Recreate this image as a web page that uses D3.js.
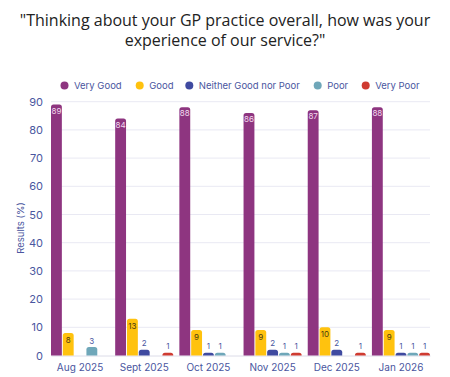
<!DOCTYPE html>
<html><head><meta charset="utf-8">
<script src="https://cdn.jsdelivr.net/npm/d3@7"></script>
<style>body{margin:0;background:#fff;}svg{display:block;font-family:"Inter","Noto Sans",sans-serif;}</style>
</head><body><svg id="c" width="450" height="377"></svg>
<script>
const months = ["Aug 2025","Sept 2025","Oct 2025","Nov 2025","Dec 2025","Jan 2026"];
const seriesNames = ["Very Good","Good","Neither Good nor Poor","Poor","Very Poor"];
const veryGood = [89,84,88,86,87,88];
const good = [8,13,9,9,10,9];
const neither = [0,2,1,2,2,1];
const poor = [3,0,1,1,0,1];
const veryPoor = [0,1,0,1,1,1];
const yTicks = [0,10,20,30,40,50,60,70,80,90];
const colors = ["#8e3580","#ffc20e","#3f4aa0","#6fa7b9","#cf3b31"];
const seriesValues = [veryGood, good, neither, poor, veryPoor];

const svg = d3.select("#c");
const axisColor = "#4a56a0";
const m = {left:51, right:430, top:101.7, bottom:355.5};

svg.append("text").attr("x",225).attr("y",26).attr("text-anchor","middle")
  .attr("font-size",16).attr("fill","#222").attr("font-family","Open Sans, sans-serif")
  .text("\"Thinking about your GP practice overall, how was your");
svg.append("text").attr("x",225).attr("y",46).attr("text-anchor","middle")
  .attr("font-size",16).attr("fill","#222").attr("font-family","Open Sans, sans-serif")
  .text("experience of our service?\"");

// legend
const legX = [64.5,139.7,189.3,317.7,365.7];
seriesNames.forEach((n,i)=>{
  svg.append("circle").attr("cx",legX[i]).attr("cy",85.5).attr("r",4).attr("fill",colors[i]);
  svg.append("text").attr("x",legX[i]+9.5).attr("y",89).attr("font-size",9.5).attr("fill",axisColor).text(n);
});

const y = d3.scaleLinear().domain([0,90]).range([m.bottom,m.top]);
const x0 = d3.scaleBand().domain(months).range([m.left,m.right]).paddingInner(0.095).paddingOuter(0);
const x1 = d3.scaleBand().domain(seriesNames).range([0,x0.bandwidth()]).paddingInner(0.08);

// gridlines
svg.append("g").selectAll("line").data(yTicks.filter(t=>t>0)).join("line")
  .attr("x1",m.left).attr("x2",m.right).attr("y1",d=>y(d)).attr("y2",d=>y(d))
  .attr("stroke","#e9e9f3").attr("stroke-width",1);

const yAxis = svg.append("g").attr("transform",`translate(${m.left},0)`)
  .call(d3.axisLeft(y).tickValues(yTicks).tickSize(0).tickPadding(8));
yAxis.select(".domain").remove();
yAxis.selectAll("text").attr("fill",axisColor).attr("font-size",11).attr("font-family","Inter, sans-serif");

const xAxis = svg.append("g").attr("transform",`translate(0,${m.bottom})`)
  .call(d3.axisBottom(x0).tickSize(0).tickPadding(8));
xAxis.select(".domain").attr("stroke","#dcdce8");
xAxis.selectAll("text").attr("fill",axisColor).attr("font-size",10).attr("font-family","Inter, sans-serif");

svg.append("text").attr("transform","translate(24,228) rotate(-90)").attr("text-anchor","middle")
  .attr("font-size",9.5).attr("fill",axisColor).text("Results (%)");

function topRounded(x,yy,w,h,r){
  r=Math.min(r,h,w/2);
  return `M${x},${yy+h}V${yy+r}Q${x},${yy} ${x+r},${yy}H${x+w-r}Q${x+w},${yy} ${x+w},${yy+r}V${yy+h}Z`;
}

const data = [];
months.forEach((mo,i)=>seriesNames.forEach((s,j)=>{
  const v = seriesValues[j][i];
  if(v>0) data.push({mo,s,j,v});
}));

const g = svg.append("g");
g.selectAll("path").data(data).join("path")
  .attr("d",d=>{const bx=x0(d.mo)+x1(d.s);const by=y(d.v);return topRounded(bx,by,x1.bandwidth(),m.bottom-by,2.5);})
  .attr("fill",d=>colors[d.j]);

g.selectAll("text").data(data).join("text")
  .attr("x",d=>x0(d.mo)+x1(d.s)+x1.bandwidth()/2)
  .attr("y",d=>{
    if(d.j===0) return y(d.v)+9;
    if(d.j===1) return y(d.v)+10;
    return y(d.v)-3.5;
  })
  .attr("text-anchor","middle").attr("font-size",8)
  .attr("fill",d=>d.j===0?"#f3dcef":(d.j===1?"#4a3a10":axisColor))
  .text(d=>d.v);
</script></body></html>
